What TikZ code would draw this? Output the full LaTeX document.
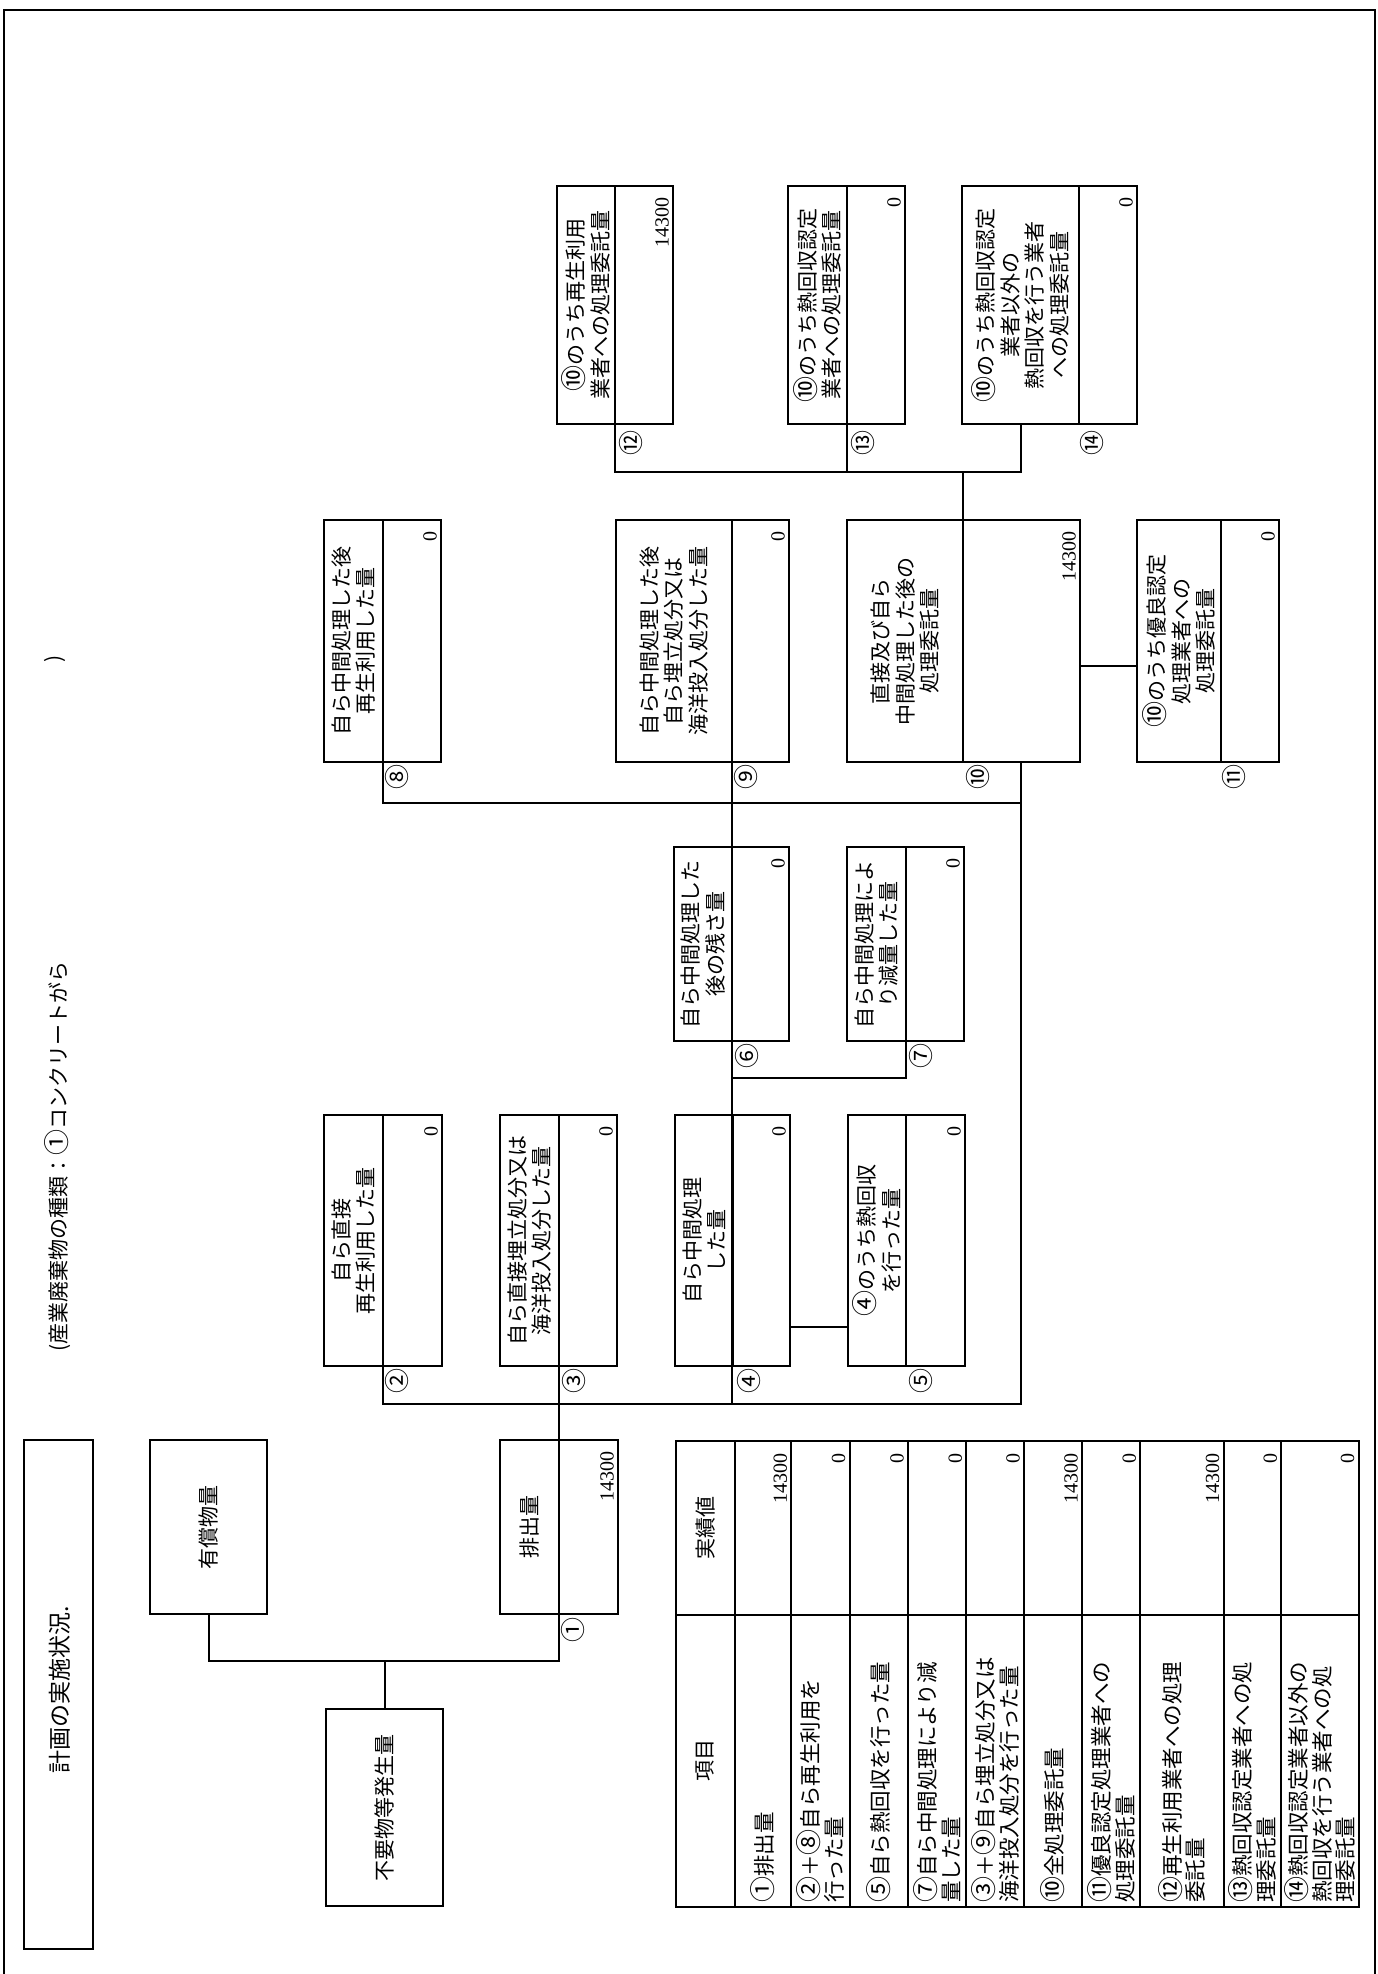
\documentclass[tikz,border=0pt]{standalone}
\usepackage{fontspec}
\setmainfont{Noto Sans CJK JP}
\newfontfamily\numfont{Liberation Serif}
\newcommand\cnum[1]{{\fontsize{26}{24}\selectfont #1}}
\newcommand\flowbox[8]{%
  \node[boxframe, minimum width={(#4-#2)*1pt}, minimum height={(#5-#3)*1pt}] (#1) at ({(#2+#4)/2},{(#3+#5)/2}) {};
  \draw[ln] (#6,#3) -- (#6,#5);
  \coordinate (#1u) at (#6,#3);
  \coordinate (#1d) at (#6,#5);
  \node[boxtext] (#1t) at ({(#2+#6)/2},{(#3+#5)/2}) {#7};
  \node[valtext] (#1v) at ({#4-4.5},{#3+11.5}) {#8};
}
\begin{document}
\begin{tikzpicture}[x=1pt,y=-1pt,
  ln/.style={line width=2pt},
  boxframe/.style={draw, line width=2pt, inner sep=0pt, outer sep=0pt},
  boxtext/.style={rotate=90, align=center, font=\fontsize{21}{24.5}\selectfont, inner sep=0pt},
  valtext/.style={rotate=90, anchor=base east, font=\numfont\fontsize{20}{24}\selectfont, inner sep=0pt},
  circnum/.style={rotate=90, font=\fontsize{25}{25}\selectfont, inner sep=0pt},
  tabtext/.style={rotate=90, align=left, anchor=west, font=\fontsize{21.5}{23.5}\selectfont, inner sep=0pt},
  headtext/.style={rotate=90, font=\fontsize{21}{24}\selectfont, inner sep=0pt},
]
\useasboundingbox (0,0) rectangle (1378,1974);
\fill[white] (0,0) rectangle (1378,1974);
% outer frame
\draw[line width=2.2pt] (4,1974) -- (4,10) -- (1375,10) -- (1375,1974);

% title and header
\node[boxframe, minimum width=69pt, minimum height=509pt] (title) at (58.5,1694.5) {};
\node[headtext, font=\fontsize{23}{26}\selectfont] (titlet) at (60,1690) {計画の実施状況.};
\node[headtext, anchor=west] (kind) at (58,1352) {(産業廃棄物の種類：\cnum{①}コンクリートがら};
\node[headtext] (kindclose) at (55,659) {)};

% flow boxes: name x1 y1 x2 y2 xd text value
\flowbox{b12}{557}{186}{673}{424}{615}{\cnum{⑩}のうち再生利用\\業者への処理委託量}{14300}
\flowbox{b13}{788}{186}{905}{424}{847}{\cnum{⑩}のうち熱回収認定\\業者への処理委託量}{0}
\flowbox{b14}{962}{186}{1137}{424}{1079}{\cnum{⑩}のうち熱回収認定\\業者以外の\\熱回収を行う業者\\への処理委託量}{0}
\flowbox{b8}{324}{520}{441}{762}{383}{自ら中間処理した後\\再生利用した量}{0}
\flowbox{b9}{616}{520}{789}{762}{732}{自ら中間処理した後\\自ら埋立処分又は\\海洋投入処分した量}{0}
\flowbox{b10}{847}{520}{1080}{762}{963}{直接及び自ら\\中間処理した後の\\処理委託量}{14300}
\flowbox{b11}{1137}{520}{1279}{762}{1221}{\cnum{⑩}のうち優良認定\\処理業者への\\処理委託量}{0}
\flowbox{b6}{674}{847}{789}{1041}{732}{自ら中間処理した\\後の残さ量}{0}
\flowbox{b7}{847}{847}{964}{1041}{906}{自ら中間処理によ\\り減量した量}{0}
\flowbox{b2}{324}{1115}{442}{1366}{383}{自ら直接\\再生利用した量}{0}
\flowbox{b3}{500}{1115}{617}{1366}{559}{自ら直接埋立処分又は\\海洋投入処分した量}{0}
\flowbox{b4}{675}{1115}{790}{1366}{733}{自ら中間処理\\した量}{0}
\flowbox{b5}{848}{1115}{965}{1366}{906}{\cnum{④}のうち熱回収\\を行った量}{0}
\flowbox{b1}{500}{1440}{618}{1614}{559}{排出量}{14300}

\node[boxframe, minimum width=117pt, minimum height=174pt] (yu) at (208.5,1527) {};
\node[boxtext] (yut) at (yu.center) {有償物量};
\node[boxframe, minimum width=117pt, minimum height=197pt] (fu) at (384.5,1807.5) {};
\node[boxtext] (fut) at (fu.center) {不要物等発生量};

% circled numbers
\node[circnum] (c1) at (573,1630) {①};
\node[circnum] (c2) at (397,1381) {②};
\node[circnum] (c3) at (574,1381) {③};
\node[circnum] (c4) at (749,1381) {④};
\node[circnum] (c5) at (921,1381) {⑤};
\node[circnum] (c6) at (747,1056) {⑥};
\node[circnum] (c7) at (921,1056) {⑦};
\node[circnum] (c8) at (397,777) {⑧};
\node[circnum] (c9) at (746,777) {⑨};
\node[circnum] (c10) at (978,777) {⑩};
\node[circnum] (c11) at (1234,777) {⑪};
\node[circnum] (c12) at (631,443) {⑫};
\node[circnum] (c13) at (863,443) {⑬};
\node[circnum] (c14) at (1092,443) {⑭};

% connectors
\coordinate (b14c) at (1021,424);
\coordinate (b10c) at (1021,762);
\coordinate (hB) at (0,1404);
\coordinate (h45) at (0,1327);
\coordinate (h1011) at (0,666);
\draw[ln] (b12d) -- ++(0,47.7) -| (b14c);
\draw[ln] (b13d) -- ++(0,47.7);
\draw[ln] (b10u) -- ++(0,-48.3);
\draw[ln] (b8d) -- ++(0,41) -| (b10c);
\draw[ln] (b2d) -- ++(0,38) -| (b10c);
\draw[ln] (b9d) -- (b9d |- hB);
\draw[ln] (b6d) -- ++(0,37) -| (b7d);
\draw[ln] (b4.east |- h45) -- (b5.west |- h45);
\draw[ln] (b10.east |- h1011) -- (b11.west |- h1011);
\draw[ln] (b3d) -- (b1u);
\draw[ln] (b1d) -- ++(0,46.5) -| (yu.south);
\draw[ln] (fu.north) -- ++(0,-48);

% table
\node[boxframe, minimum width=682.4pt, minimum height=465.2pt] (tab) at (1017.5,1673.9) {};
\draw[ln] (676.3,1615) -- (1358.7,1615);
\foreach \xx in {734.7,791.3,849.7,908,966.3,1024,1082,1140.3,1223.7,1281.3}
  \draw[ln] (\xx,1441.3) -- (\xx,1906.5);
\node[headtext] (th1) at (705.5,1760) {項目};
\node[headtext] (th2) at (705.5,1528) {実績値};
\node[tabtext] (r1) at (763,1903) {\cnum{①}排出量};
\node[tabtext] (r2) at (820.5,1903) {\cnum{②}＋\cnum{⑧}自ら再生利用を\\行った量};
\node[tabtext] (r3) at (878.9,1903) {\cnum{⑤}自ら熱回収を行った量};
\node[tabtext] (r4) at (937.2,1903) {\cnum{⑦}自ら中間処理により減\\量した量};
\node[tabtext] (r5) at (995.2,1903) {\cnum{③}＋\cnum{⑨}自ら埋立処分又は\\海洋投入処分を行った量};
\node[tabtext] (r6) at (1053,1903) {\cnum{⑩}全処理委託量};
\node[tabtext] (r7) at (1111.2,1903) {\cnum{⑪}優良認定処理業者への\\処理委託量};
\node[tabtext] (r8) at (1182,1903) {\cnum{⑫}再生利用業者への処理\\委託量};
\node[tabtext] (r9) at (1252.5,1903) {\cnum{⑬}熱回収認定業者への処\\理委託量};
\node[tabtext] (r10) at (1320,1903) {\cnum{⑭}熱回収認定業者以外の\\熱回収を行う業者への処\\理委託量};
\node[valtext] (v1) at (786.8,1453) {14300};
\node[valtext] (v2) at (845.2,1453) {0};
\node[valtext] (v3) at (903.5,1453) {0};
\node[valtext] (v4) at (961.8,1453) {0};
\node[valtext] (v5) at (1019.5,1453) {0};
\node[valtext] (v6) at (1077.5,1453) {14300};
\node[valtext] (v7) at (1135.8,1453) {0};
\node[valtext] (v8) at (1219.2,1453) {14300};
\node[valtext] (v9) at (1276.8,1453) {0};
\node[valtext] (v10) at (1354.2,1453) {0};
\end{tikzpicture}
\end{document}
